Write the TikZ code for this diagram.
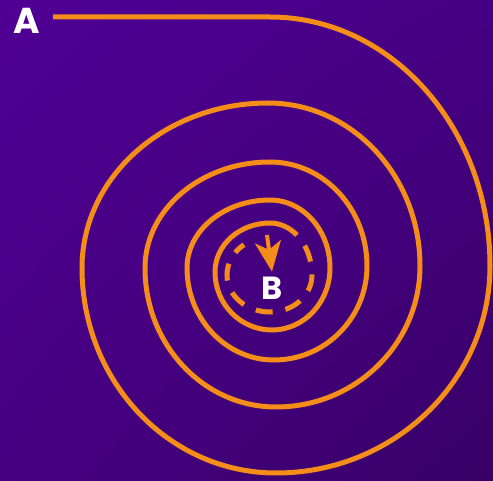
\documentclass[tikz,border=0pt]{standalone}
\usepackage{fontspec}
\newfontfamily\labelfont{Poppins}
\usetikzlibrary{arrows.meta,shadings}
\definecolor{spiralorange}{RGB}{245,142,24}
\definecolor{bgtl}{RGB}{80,0,148}
\definecolor{bgtr}{RGB}{70,0,132}
\definecolor{bgbl}{RGB}{70,0,130}
\definecolor{bgbr}{RGB}{56,0,102}
\begin{document}
\begin{tikzpicture}[x=1pt,y=1pt,
  wire/.style={draw=spiralorange,line width=5pt},
  dashwire/.style={wire,dash pattern=on 17pt off 13pt,dash phase=17pt},
  pointlabel/.style={text=white,inner sep=0pt,font=\labelfont\bfseries}]
\useasboundingbox (0,0) rectangle (493,480);
\shade[upper left=bgtl,upper right=bgtr,lower left=bgbl,lower right=bgbr] (0,0) rectangle (493,480);
\node[pointlabel,font=\labelfont\bfseries\fontsize{36}{36}\selectfont] (A) at (27,459.5) {A};
\node[pointlabel,inner sep=5pt,font=\labelfont\bfseries\fontsize{32}{32}\selectfont] (B) at (272,192) {B};
\coordinate (start) at (53,463);
% outer turns, clockwise
\draw[wire] (start) -- (270,463)
  arc[start angle=90,end angle=0,x radius=220,y radius=249]
  arc[start angle=0,end angle=-90,x radius=214,y radius=207]
  arc[start angle=-90,end angle=-180,x radius=194,y radius=205]
  arc[start angle=180,end angle=90,x radius=186,y radius=165]
  arc[start angle=90,end angle=0,x radius=152,y radius=163]
  arc[start angle=0,end angle=-90,x radius=144,y radius=141]
  arc[start angle=-90,end angle=-180,x radius=131,y radius=139]
  arc[start angle=180,end angle=90,x radius=125,y radius=106]
  arc[start angle=90,end angle=0,x radius=97,y radius=104]
  arc[start angle=0,end angle=-90,x radius=93,y radius=94]
  arc[start angle=-90,end angle=-180,x radius=87,y radius=92]
  arc[start angle=180,end angle=90,x radius=83,y radius=68]
  arc[start angle=90,end angle=0,x radius=60,y radius=68]
  arc[start angle=0,end angle=-90,x radius=58,y radius=62]
  arc[start angle=-90,end angle=-180,x radius=57,y radius=58]
  arc[start angle=180,end angle=90,x radius=55,y radius=49]
  arc[start angle=90,end angle=50,x radius=42,y radius=52] coordinate (fade);
% last turn dashed
\draw[dashwire] (fade)
  arc[start angle=50,end angle=0,x radius=42,y radius=52]
  arc[start angle=0,end angle=-90,x radius=42,y radius=37]
  arc[start angle=-90,end angle=-180,x radius=43,y radius=37]
  arc[start angle=180,end angle=125,x radius=40,y radius=37];
\coordinate (drop) at (267,245);
\draw[draw=spiralorange,line width=4pt,-{Stealth[length=30pt,width=26pt,inset=8pt]}] (drop) -- (B.north);
\end{tikzpicture}
\end{document}
